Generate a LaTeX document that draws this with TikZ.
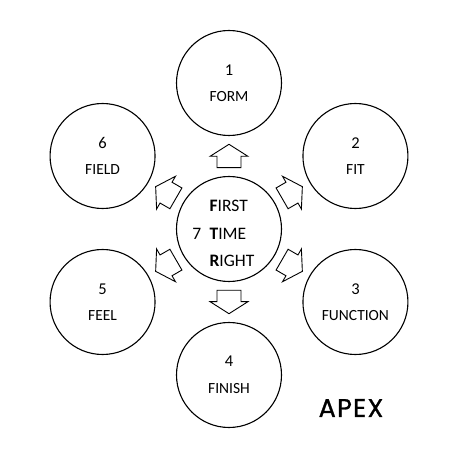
\documentclass[tikz,border=0pt]{standalone}
\usepackage{fontspec}
\setmainfont{Carlito}
\newfontfamily\apexfont[LetterSpace=5,FakeBold=1]{Poppins}
\usetikzlibrary{positioning,calc}
\tikzset{
  stage/.style={draw, circle, line width=1.1pt, minimum size=105pt, inner sep=0pt,
    align=center, font=\fontsize{15.5}{26.5}\selectfont},
  blockarrow/.pic={\draw[line width=0.9pt]
    (11.7,0) -- (-0.3,18.9) -- (-0.3,12) -- (-11.7,12) -- (-11.7,-12)
    -- (-0.3,-12) -- (-0.3,-18.9) -- cycle;}
}
\newcommand{\numf}[1]{{\fontsize{16.5}{26.5}\selectfont #1}}
\begin{document}
\begin{tikzpicture}[x=1pt,y=1pt]
  \useasboundingbox (0,0) rectangle (458,475);
  \node[stage] (ctr) at (229,246) {};
  \node[stage] (form) at ($(ctr)+(90:146)$) {\numf{1}\\FORM};
  \node[stage] (fit) at ($(ctr)+(30:146)$) {\numf{2}\\FIT};
  \node[stage] (function) at ($(ctr)+(-30:146)$) {\numf{3}\\FUNCTION};
  \node[stage] (finish) at ($(ctr)+(-90:146)$) {\numf{4}\\FINISH};
  \node[stage] (feel) at ($(ctr)+(210:146)$) {\numf{5}\\FEEL};
  \node[stage] (field) at ($(ctr)+(150:146)$) {\numf{6}\\FIELD};
  % first time right
  \node[align=left, inner sep=0pt, font=\fontsize{17.5}{27.5}\selectfont] (ftr)
    at ([shift={(3,-4.5)}]ctr) {\textbf{F}IRST\\\textbf{T}IME\\\textbf{R}IGHT};
  \node[left=8pt of ftr, inner sep=0pt, font=\fontsize{17.5}{27.5}\selectfont] (seven) {7};
  \foreach \n/\a in {form/90, fit/30, function/-30, finish/-90, feel/210, field/150}
    \pic[rotate=\a] at ($(ctr)!0.5!(\n)$) {blockarrow};
  \node[font=\apexfont\fontsize{25.5}{28}\selectfont] (apex) at (351,67) {APEX};
\end{tikzpicture}
\end{document}
